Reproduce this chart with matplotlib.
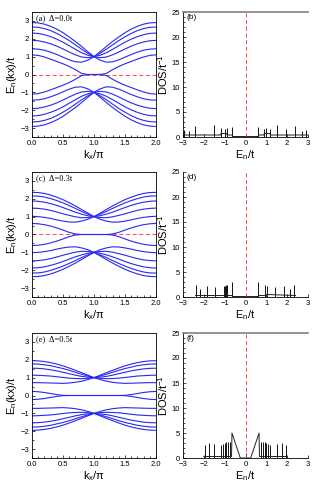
from matplotlib import pyplot as plt
from matplotlib.ticker import MultipleLocator

plt.rcParams['font.family'] = ['Liberation Sans', 'DejaVu Sans']
plt.rcParams['mathtext.fontset'] = 'custom'
plt.rcParams['mathtext.rm'] = 'Liberation Sans'
plt.rcParams['mathtext.it'] = 'Liberation Sans'

# kx/pi from 0 to 1; the bands are mirrored about kx = pi and E = 0
k_half = [0.0, 0.1, 0.2, 0.3, 0.4, 0.5, 0.6, 0.7, 0.8, 0.9, 1.0]

bands_a = [
    [2.91, 2.89, 2.82, 2.70, 2.54, 2.34, 2.10, 1.85, 1.57, 1.28, 1.00],
    [2.66, 2.64, 2.57, 2.46, 2.30, 2.11, 1.90, 1.66, 1.42, 1.19, 1.00],
    [2.32, 2.30, 2.23, 2.12, 1.98, 1.81, 1.61, 1.41, 1.22, 1.08, 1.00],
    [1.91, 1.89, 1.82, 1.72, 1.59, 1.43, 1.26, 1.10, 0.98, 0.94, 1.00],
    [1.44, 1.42, 1.36, 1.25, 1.12, 0.97, 0.82, 0.71, 0.69, 0.80, 1.00],
    [1.10, 1.07, 0.98, 0.86, 0.73, 0.60, 0.45, 0.27, 0.06, 0.00, 0.00],
]
bands_c = [
    [2.36, 2.35, 2.30, 2.21, 2.09, 1.95, 1.78, 1.60, 1.40, 1.20, 1.00],
    [2.16, 2.15, 2.10, 2.01, 1.90, 1.77, 1.62, 1.46, 1.29, 1.14, 1.00],
    [1.88, 1.86, 1.81, 1.73, 1.63, 1.51, 1.38, 1.25, 1.14, 1.05, 1.00],
    [1.48, 1.46, 1.42, 1.35, 1.26, 1.16, 1.07, 0.99, 0.94, 0.95, 1.00],
    [1.02, 1.00, 0.96, 0.90, 0.82, 0.75, 0.70, 0.69, 0.75, 0.85, 1.00],
    [0.62, 0.60, 0.55, 0.47, 0.37, 0.25, 0.12, 0.03, 0.00, 0.00, 0.00],
]
bands_e = [
    [1.95, 1.94, 1.90, 1.84, 1.76, 1.66, 1.54, 1.41, 1.28, 1.14, 1.00],
    [1.77, 1.76, 1.72, 1.67, 1.59, 1.51, 1.41, 1.30, 1.19, 1.09, 1.00],
    [1.53, 1.52, 1.49, 1.44, 1.38, 1.30, 1.22, 1.14, 1.07, 1.03, 1.00],
    [1.14, 1.13, 1.11, 1.09, 1.05, 1.01, 0.97, 0.95, 0.94, 0.96, 1.00],
    [0.72, 0.72, 0.71, 0.70, 0.69, 0.68, 0.70, 0.74, 0.80, 0.89, 1.00],
    [0.23, 0.21, 0.17, 0.11, 0.05, 0.01, 0.00, 0.00, 0.00, 0.00, 0.00],
]

# DOS: spike energies / heights, plus a background curve
spk_E_b = [-2.97, -2.71, -2.41, -1.51, -1.18, -0.97, -0.87, -0.63,
           0.62, 0.87, 0.97, 1.16, 1.50, 1.96, 2.36, 2.73, 2.92]
spk_h_b = [1.3, 1.1, 2.1, 2.3, 1.7, 1.6, 1.7, 1.9,
           1.9, 1.6, 1.7, 1.6, 2.3, 1.5, 2.1, 1.1, 1.3]
bg_E_b = [-3.0, -1.2, -1.18, -0.9, -0.88, -0.63, -0.6, 0.6, 0.63, 0.88, 0.9, 1.18, 1.2, 3.0]
bg_d_b = [0.4, 0.4, 0.7, 0.7, 0.4, 0.4, 0.1, 0.1, 0.4, 0.4, 0.7, 0.7, 0.4, 0.4]

spk_E_d = [-2.36, -2.17, -1.85, -1.45, -1.03, -0.99, -0.95, -0.91, -0.87, -0.63,
           0.60, 0.92, 1.02, 1.40, 1.83, 2.15, 2.33]
spk_h_d = [2.4, 1.6, 2.25, 2.05, 2.2, 2.3, 2.4, 2.4, 2.3, 3.0,
           3.0, 2.4, 2.2, 2.0, 2.25, 1.6, 2.4]
bg_E_d = [-2.4, -1.03, -1.0, -0.87, -0.85, -0.63, -0.6, 0.6, 0.63, 0.9, 1.05, 2.4]
bg_d_d = [0.3, 0.3, 0.6, 0.6, 0.3, 0.3, 0.1, 0.1, 0.3, 0.3, 0.5, 0.3]

spk_E_f = [-1.93, -1.77, -1.51, -1.19, -1.10, -1.00, -0.92, -0.84, -0.76, 0.0,
           0.76, 0.84, 0.92, 1.00, 1.10, 1.19, 1.51, 1.77, 1.93]
spk_h_f = [2.7, 3.0, 2.9, 2.7, 2.9, 3.0, 3.2, 3.2, 3.3, 1.0,
           3.3, 3.2, 3.2, 3.0, 2.9, 2.7, 2.9, 3.0, 2.7]
bg_E_f = [-2.0, -0.67, -0.65, -0.25, 0.25, 0.65, 0.67, 2.0]
bg_d_f = [0.3, 0.3, 5.0, 0.0, 0.0, 5.0, 0.3, 0.3]

labels_left = ['(a)  \u0394=0.0t', '(c)  \u0394=0.3t', '(e)  \u0394=0.5t']
labels_right = ['(b)', '(d)', '(f)']

fig = plt.figure(figsize=(3.19, 4.90), dpi=100)
bottoms = [1 - 137 / 490, 1 - 297 / 490, 1 - 458 / 490]
h = 125 / 490

k_full = k_half + [2 - k for k in k_half[::-1][1:]]

for row, bands in enumerate([bands_a, bands_c, bands_e]):
    ax = fig.add_axes([32 / 319, bottoms[row], 124 / 319, h])
    for b in bands:
        e_full = b + b[::-1][1:]
        ax.plot(k_full, e_full, color='#2828f0', lw=0.8)
        ax.plot(k_full, [-v for v in e_full], color='#2828f0', lw=0.8)
    if row < 2:
        ax.axhline(0, color='#ff3030', ls=(0, (5, 3)), lw=0.6, zorder=0)
    ax.set_xlim(0, 2)
    ax.set_ylim(-3.5, 3.5)
    ax.set_xticks([0, 0.5, 1.0, 1.5, 2.0])
    ax.set_xticklabels(['0.0', '0.5', '1.0', '1.5', '2.0'])
    ax.set_yticks([-3, -2, -1, 0, 1, 2, 3])
    ax.xaxis.set_minor_locator(MultipleLocator(0.1))
    ax.yaxis.set_minor_locator(MultipleLocator(0.5))
    ax.tick_params(which='both', direction='in', labelsize=5.5, width=0.5, pad=2)
    ax.tick_params(which='major', length=2.5)
    ax.tick_params(which='minor', length=1.3)
    for s in ax.spines.values():
        s.set_linewidth(0.6)
    ax.set_ylabel(r'E$_n$(kx)/t', fontsize=8, labelpad=1)
    ax.set_xlabel(r'k$_x$/$\pi$', fontsize=8, labelpad=1)
    ax.text(0.03, 0.985, labels_left[row], transform=ax.transAxes, fontsize=6,
            va='top', ha='left', family=['Liberation Serif', 'DejaVu Serif'])

dos = [(spk_E_b, spk_h_b, bg_E_b, bg_d_b),
       (spk_E_d, spk_h_d, bg_E_d, bg_d_d),
       (spk_E_f, spk_h_f, bg_E_f, bg_d_f)]

for row, (se, sh, be, bd) in enumerate(dos):
    ax = fig.add_axes([183 / 319, bottoms[row], 125 / 319, h])
    ax.vlines(se, 0, sh, color='#111111', lw=0.7)
    ax.plot(be, bd, color='#222222', lw=0.7)
    ax.axvline(0, color='#ff3030', ls=(0, (5, 3)), lw=0.6)
    ax.set_xlim(-3, 3)
    ax.set_ylim(0, 25)
    ax.set_xticks([-3, -2, -1, 0, 1, 2, 3])
    ax.set_yticks([0, 5, 10, 15, 20, 25])
    ax.yaxis.set_minor_locator(MultipleLocator(1))
    ax.tick_params(which='both', direction='in', labelsize=5.5, width=0.5, pad=2)
    ax.tick_params(which='major', length=2.5)
    ax.tick_params(which='minor', length=1.2)
    ax.spines['right'].set_visible(False)
    if row == 1:
        ax.spines['top'].set_visible(False)
    else:
        ax.spines['top'].set_color('#808080')
        ax.spines['top'].set_linewidth(1.2)
    ax.spines['left'].set_linewidth(0.6)
    ax.spines['bottom'].set_linewidth(0.6)
    ax.set_ylabel(r'DOS/t$^{-1}$', fontsize=8, labelpad=1)
    ax.set_xlabel(r'E$_n$/t', fontsize=8, labelpad=1)
    ax.text(0.03, 0.985, labels_right[row], transform=ax.transAxes, fontsize=6,
            va='top', ha='left')

fig.savefig('out.png', dpi=100)
